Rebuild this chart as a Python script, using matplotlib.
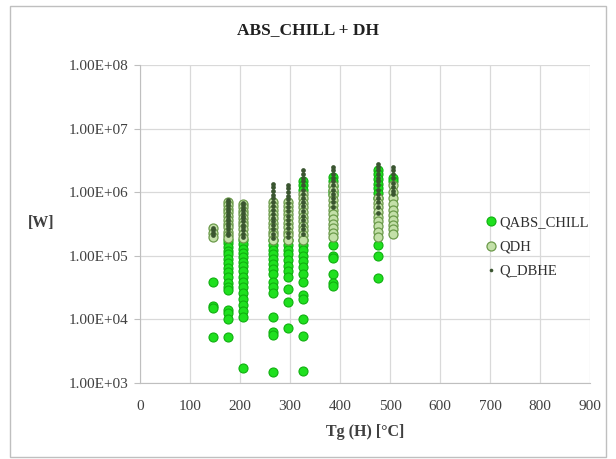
import matplotlib
matplotlib.use("Agg")
import matplotlib.pyplot as plt
from matplotlib.ticker import FuncFormatter, FixedLocator
from matplotlib.patches import Rectangle

plt.rcParams['font.family'] = ['Liberation Serif', 'DejaVu Serif']

# temperature columns (Tg, °C)
temps = [145, 175, 205, 265, 295, 325, 385, 475, 505]

# QABS_CHILL values per column [W]
qabs = [
    [3.9e4, 1.65e4, 1.5e4, 5.3e3],
    [1.8e5, 1.6e5, 1.4e5, 1.2e5, 1.05e5, 9.0e4, 7.8e4, 6.5e4, 5.5e4, 4.6e4, 3.8e4,
     3.2e4, 2.9e4, 1.4e4, 1.25e4, 1.0e4, 5.3e3],
    [1.8e5, 1.55e5, 1.3e5, 1.1e5, 9.5e4, 8.0e4, 6.8e4, 5.7e4, 4.7e4, 3.9e4, 3.2e4,
     2.6e4, 2.1e4, 1.7e4, 1.35e4, 1.1e4, 1.7e3],
    [1.8e5, 1.5e5, 1.25e5, 1.05e5, 8.8e4, 7.4e4, 6.2e4, 5.2e4, 3.9e4, 3.2e4, 2.6e4,
     1.1e4, 6.4e3, 5.6e3, 1.5e3],
    [1.8e5, 1.5e5, 1.25e5, 1.05e5, 8.5e4, 7.0e4, 5.7e4, 4.7e4, 3.0e4, 1.9e4, 7.2e3],
    [1.5e6, 1.3e6, 1.1e6, 1.8e5, 1.5e5, 1.25e5, 1.0e5, 8.2e4, 6.6e4, 5.2e4, 3.9e4,
     2.4e4, 2.1e4, 1.0e4, 5.5e3, 1.55e3],
    [1.75e6, 1.5e6, 1.25e6, 1.05e6, 9.5e5, 1.5e5, 1.0e5, 9.2e4, 5.2e4, 3.7e4, 3.3e4],
    [2.2e6, 1.9e6, 1.6e6, 1.35e6, 1.15e6, 9.8e5, 8.0e5, 1.5e5, 9.8e4, 4.5e4],
    [1.65e6, 1.5e6],
]

# QDH values per column [W]
qdh = [
    [2.7e5, 2.3e5, 1.95e5],
    [7.0e5, 6.2e5, 5.5e5, 4.8e5, 4.2e5, 3.7e5, 3.2e5, 2.8e5, 2.4e5, 2.1e5, 1.9e5],
    [6.5e5, 5.8e5, 5.1e5, 4.5e5, 3.9e5, 3.4e5, 3.0e5, 2.6e5, 2.2e5, 1.9e5],
    [7.0e5, 6.0e5, 5.2e5, 4.5e5, 3.9e5, 3.3e5, 2.8e5, 2.4e5, 2.1e5, 1.8e5],
    [7.0e5, 6.0e5, 5.2e5, 4.5e5, 3.9e5, 3.3e5, 2.8e5, 2.4e5, 2.1e5, 1.8e5],
    [9.5e5, 8.0e5, 6.8e5, 5.8e5, 4.9e5, 4.1e5, 3.5e5, 2.9e5, 2.5e5, 2.1e5, 1.8e5],
    [1.3e6, 1.1e6, 9.0e5, 7.5e5, 6.3e5, 5.3e5, 4.5e5, 3.8e5, 3.2e5, 2.7e5, 2.3e5, 2.0e5],
    [8.0e5, 6.8e5, 5.8e5, 4.9e5, 4.1e5, 3.5e5, 2.9e5, 2.4e5, 2.0e5],
    [1.3e6, 1.0e6, 8.0e5, 6.5e5, 5.3e5, 4.4e5, 3.7e5, 3.1e5, 2.6e5, 2.2e5],
]

# Q_DBHE values per column [W]
qdbhe = [
    [2.7e5, 2.5e5, 2.3e5, 2.1e5],
    [7.5e5, 7.0e5, 6.5e5, 6.0e5, 5.5e5, 5.0e5, 4.6e5, 4.2e5, 3.8e5, 3.5e5, 3.2e5,
     2.9e5, 2.6e5, 2.3e5, 2.1e5],
    [6.7e5, 6.2e5, 5.7e5, 5.2e5, 4.7e5, 4.3e5, 3.9e5, 3.5e5, 3.1e5, 2.8e5, 2.5e5,
     2.2e5, 2.0e5],
    [1.35e6, 1.2e6, 1.05e6, 9.2e5, 8.0e5, 7.0e5, 6.1e5, 5.3e5, 4.6e5, 4.0e5, 3.5e5,
     3.0e5, 2.6e5, 2.2e5, 1.9e5],
    [1.3e6, 1.15e6, 1.0e6, 8.8e5, 7.7e5, 6.7e5, 5.8e5, 5.0e5, 4.3e5, 3.7e5, 3.2e5,
     2.7e5, 2.3e5, 2.0e5],
    [2.2e6, 1.95e6, 1.7e6, 1.5e6, 1.3e6, 1.1e6, 9.5e5, 8.2e5, 7.0e5, 6.0e5, 5.1e5,
     4.3e5, 3.6e5, 3.0e5, 2.6e5, 2.2e5],
    [2.5e6, 2.2e6, 1.95e6, 1.7e6, 1.5e6, 1.3e6, 1.1e6, 9.5e5, 8.2e5, 7.0e5, 5.9e5],
    [2.8e6, 2.5e6, 2.2e6, 1.95e6, 1.7e6, 1.5e6, 1.3e6, 1.1e6, 9.5e5, 8.2e5, 7.0e5,
     5.9e5, 4.7e5],
    [2.5e6, 2.2e6, 1.9e6, 1.65e6, 1.4e6, 1.2e6, 1.05e6, 9.5e5],
]

def flatten(cols):
    xs, ys = [], []
    for t, vals in zip(temps, cols):
        xs += [t] * len(vals)
        ys += vals
    return xs, ys

fig = plt.figure(figsize=(6.16, 4.59), dpi=100)
ax = fig.add_axes([140/616, 1-383/459, 450/616, 318/459])

x1, y1 = flatten(qabs)
x2, y2 = flatten(qdh)
x3, y3 = flatten(qdbhe)
ax.plot(x1, y1, 'o', ms=6.5, mfc='#1fe01f', mec='#10b010', mew=0.8, label='QABS_CHILL', zorder=3)
ax.plot(x2, y2, 'o', ms=6.5, mfc='#c3e0a8', mec='#6b9a4a', mew=0.9, label='QDH', zorder=4)
ax.plot(x3, y3, 'o', ms=3.4, mfc='#3a5530', mec='#3a5530', mew=0, label='Q_DBHE', zorder=5)

ax.set_yscale('log')
ax.set_ylim(1e3, 1e8)
ax.set_xlim(0, 900)
ax.xaxis.set_major_locator(FixedLocator(range(0, 1000, 100)))
ax.yaxis.set_major_locator(FixedLocator([1e3, 1e4, 1e5, 1e6, 1e7, 1e8]))
ax.yaxis.set_minor_locator(FixedLocator([]))
ax.yaxis.set_major_formatter(FuncFormatter(lambda v, p: '%.2E' % v))
ax.grid(True, color='#d9d9d9', lw=0.9)
ax.set_axisbelow(True)
for s in ['top', 'right']:
    ax.spines[s].set_visible(False)
for s in ['left', 'bottom']:
    ax.spines[s].set_color('#bfbfbf')
ax.tick_params(axis='x', length=0, pad=12, labelsize=11, colors='#404040')
ax.tick_params(axis='y', length=4, color='#bfbfbf', pad=4, labelsize=11, labelcolor='#404040')

ax.set_xlabel('Tg (H) [°C]', fontsize=11.5, fontweight='bold', color='#404040', labelpad=8)
fig.text(41/616, 1-223/459, '[W]', fontsize=11.5, fontweight='bold', color='#404040',
         ha='center', va='center')
fig.text(0.5, 1-30/459, 'ABS_CHILL + DH', fontsize=12.5, fontweight='bold', color='#202020',
         ha='center', va='center')

leg = ax.legend(loc='center left', bbox_to_anchor=(478/616, 1-247/459),
                bbox_transform=fig.transFigure, frameon=False, fontsize=10.5,
                handlelength=0.8, handletextpad=0.2, labelspacing=0.75, borderpad=0)
leg.legend_handles[2].set_markersize(2.6)
for t in leg.get_texts():
    t.set_color('#303030')

fig.patches.append(Rectangle((10/616, 1-457/459), 596/616, 451/459, transform=fig.transFigure,
                             fill=False, ec='#bfbfbf', lw=1))

fig.savefig('out.png', dpi=100)
